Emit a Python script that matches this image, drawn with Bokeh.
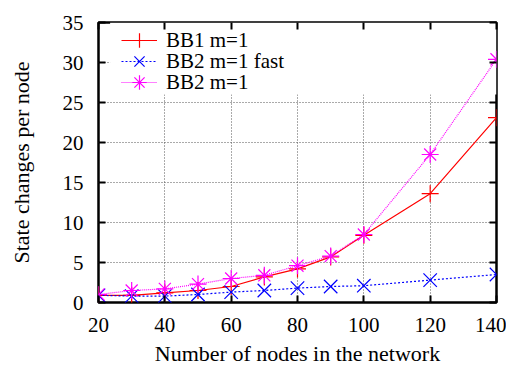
from bokeh.plotting import figure
from bokeh.models import LinearAxis, BoxAnnotation, Legend, LegendItem, FixedTicker, Range1d
from bokeh.embed import file_html
from bokeh.resources import INLINE

nodes = [20, 30, 40, 50, 60, 70, 80, 90, 100, 120, 140]
bb1 = [0.9, 0.9, 1.2, 1.5, 2.0, 3.2, 4.2, 5.7, 8.4, 13.6, 23.1]
bb2_fast = [0.9, 0.8, 0.8, 1.0, 1.3, 1.5, 1.8, 2.0, 2.1, 2.8, 3.5]
bb2 = [1.0, 1.5, 1.7, 2.3, 3.0, 3.4, 4.6, 5.8, 8.5, 18.5, 30.4]
x_ticks = [20, 40, 60, 80, 100, 120, 140]
y_ticks = [0, 5, 10, 15, 20, 25, 30, 35]
labels = ["BB1 m=1", "BB2 m=1 fast", "BB2 m=1"]

FONT = "Liberation Serif"
FS = "21px"
FS_LABEL = "22px"

p = figure(width=510, height=360, frame_width=398, frame_height=280,
           output_backend="svg", toolbar_location=None,
           x_range=Range1d(20, 140), y_range=Range1d(0, 35),
           min_border_left=98, min_border_top=22, min_border_right=10, min_border_bottom=10)
p.background_fill_color = "white"
p.border_fill_color = "white"
p.outline_line_color = "black"
p.outline_line_width = 2.5

for ax in [p.xaxis[0], p.yaxis[0]]:
    ax.major_tick_in = 7
    ax.major_tick_out = 0
    ax.minor_tick_in = 0
    ax.minor_tick_out = 0
    ax.axis_line_color = None
    ax.major_tick_line_width = 2
    ax.major_label_text_font = FONT
    ax.major_label_text_font_size = FS
    ax.major_label_text_color = "black"
    ax.axis_label_text_font = FONT
    ax.axis_label_text_font_size = FS_LABEL
    ax.axis_label_text_font_style = "normal"
    ax.axis_label_text_color = "black"

p.xaxis[0].ticker = FixedTicker(ticks=x_ticks)
p.yaxis[0].ticker = FixedTicker(ticks=y_ticks)
p.xaxis[0].axis_label = "Number of nodes in the network"
p.yaxis[0].axis_label = "State changes per node"
p.xaxis[0].major_label_standoff = 15
p.xaxis[0].axis_label_standoff = 6
p.yaxis[0].major_label_standoff = 15
p.yaxis[0].axis_label_standoff = 26

for loc, tk in [("above", x_ticks), ("right", y_ticks)]:
    a = LinearAxis(ticker=FixedTicker(ticks=tk), major_tick_in=7, major_tick_out=0,
                   minor_tick_in=0, minor_tick_out=0, axis_line_color=None,
                   major_tick_line_width=2, major_label_text_font_size="0px",
                   major_label_standoff=0)
    p.add_layout(a, loc)

for g, tk in [(p.xgrid[0], x_ticks), (p.ygrid[0], y_ticks)]:
    g.ticker = FixedTicker(ticks=tk)
    g.grid_line_color = "#555555"
    g.grid_line_dash = "1 2"
    g.grid_line_width = 1

# opaque key background (covers the grid behind the legend)
p.add_layout(BoxAnnotation(left=23.5, right=140, bottom=26, top=35,
                           fill_color="white", fill_alpha=1.0, line_color=None,
                           level="underlay"))

r1l = p.line(nodes, bb1, line_color="#ff0000", line_width=1.2)
r1m = p.scatter(nodes, bb1, marker="cross", size=17, line_color="#ff0000", line_width=1.2)
r2l = p.line(nodes, bb2_fast, line_color="#0000ff", line_width=1.2, line_dash="2 2")
r2m = p.scatter(nodes, bb2_fast, marker="x", size=19, line_color="#0000ff", line_width=1.2)
r3l = p.line(nodes, bb2, line_color="#ff00ff", line_width=1.2, line_dash="1 1")
r3m = p.scatter(nodes, bb2, marker="asterisk", size=17, line_color="#ff00ff", line_width=1.2)

# one single-entry key per series, stacked like the gnuplot key
for i, (lab, rs) in enumerate(zip(labels, [[r1l, r1m], [r2l, r2m], [r3l, r3m]])):
    lg = Legend(items=[LegendItem(label=lab, renderers=rs)], location=(23, 241 - 21 * i))
    lg.label_text_font = FONT
    lg.label_text_font_size = FS
    lg.label_text_color = "black"
    lg.border_line_color = None
    lg.background_fill_alpha = 0
    lg.glyph_width = 36
    lg.glyph_height = 42
    lg.padding = 0
    lg.margin = 0
    lg.label_standoff = 9
    p.add_layout(lg)

open("out.html", "w").write(file_html(p, INLINE))
